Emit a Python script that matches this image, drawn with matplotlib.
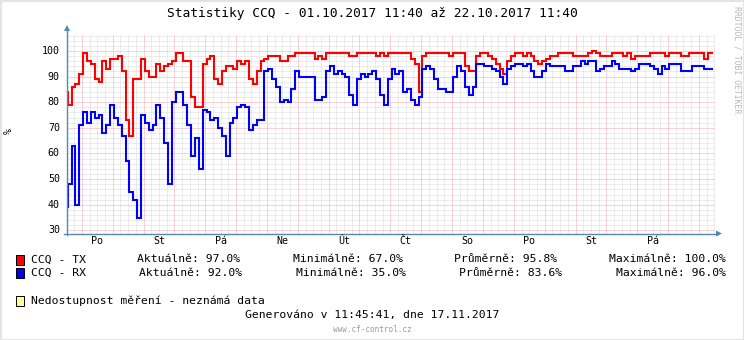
import numpy as np
import matplotlib
matplotlib.use("Agg")
import matplotlib.pyplot as plt
from matplotlib.patches import Rectangle, Polygon
from matplotlib.lines import Line2D

# ---------------- data ----------------
title = "Statistiky CCQ - 01.10.2017 11:40 až 22.10.2017 11:40"

# CCQ values, 3-hour steps (first value is a partial step before the window)
tx_values = [84,
             79, 86, 87, 91, 99, 96, 95, 89, 88, 96, 93, 97, 97, 98, 92, 73, 67, 89, 89, 97,
             92, 90, 90, 95, 92, 94, 95, 96, 99, 99, 96, 96, 82, 78, 78, 95, 97, 98, 89, 87,
             92, 94, 94, 93, 96, 95, 96,
             89, 87, 92, 96, 97, 98, 98, 98, 96, 96, 98, 98, 99, 99, 99, 99, 99, 97, 98, 97,
             99, 99, 99, 99, 99, 99,
             98, 98, 99, 99, 99, 99, 99, 98, 99, 98, 99, 99, 99, 99, 99, 99, 97, 95, 84, 98,
             99, 99, 99, 99,
             99, 99, 98, 99, 99, 99, 94, 92, 92, 98, 99, 99, 98, 97, 95, 93, 91, 96, 98, 99,
             99, 98, 99, 98,
             96, 95, 96, 97, 98, 98, 99, 99, 99, 99, 98, 98, 98, 98, 99, 100, 99, 98, 98, 98,
             99, 99, 99, 98,
             99, 97, 98, 98, 98, 98, 99, 99, 99, 99, 98, 99, 99, 99, 98, 98, 99, 99, 99, 99,
             97, 99]

rx_values = [39,
             48, 63, 40, 71, 76, 72, 76, 74, 75, 68, 71, 79, 74, 71, 67, 57, 45, 42, 35, 75,
             72, 69, 71, 79, 74, 64, 48, 80, 84, 84, 79, 71, 59, 66, 54, 77, 76, 73, 74, 70,
             67, 59, 72, 74, 78, 79, 78,
             69, 71, 73, 73, 92, 93, 89, 86, 80, 81, 80, 85, 92, 90, 90, 90, 90, 81, 81, 82,
             92, 94, 91, 92, 91, 90,
             83, 79, 89, 91, 90, 91, 92, 89, 83, 79, 89, 93, 91, 92, 84, 85, 81, 79, 82, 93,
             94, 93, 89, 85,
             85, 84, 84, 90, 94, 92, 86, 83, 86, 95, 95, 94, 94, 93, 92, 90, 87, 93, 94, 95,
             95, 94, 95, 92,
             90, 90, 92, 95, 94, 94, 94, 94, 92, 92, 94, 94, 96, 95, 96, 96, 92, 93, 94, 94,
             96, 95, 93, 93,
             93, 92, 93, 95, 95, 95, 94, 93, 91, 94, 93, 95, 95, 95, 92, 92, 92, 94, 94, 94,
             93, 93]

day_labels = ["Po", "St", "Pá", "Ne", "Út", "Čt", "So", "Po", "St", "Pá"]
y_ticks = [30, 40, 50, 60, 70, 80, 90, 100]

series_names = ["CCQ - TX", "CCQ - RX"]
series_colors = ["#FF0000", "#0000FF"]
cur_vals = ["97.0%", "92.0%"]
min_vals = ["67.0%", "35.0%"]
avg_vals = ["95.8%", "83.6%"]
max_vals = ["100.0%", "96.0%"]

unknown_label = "Nedostupnost měření - neznámá data"
generated = "Generováno v 11:45:41, dne 17.11.2017"
footer = "www.cf-control.cz"
watermark = "RRDTOOL / TOBI OETIKER"

# ---------------- figure ----------------
W, H = 744, 340
fig = plt.figure(figsize=(W / 100, H / 100), dpi=100)
fig.patch.set_facecolor("white")
MONO = "DejaVu Sans Mono"


def fx(x):
    return x / W


def fy(y):
    return 1 - y / H


left, right, top, bottom = 67, 715, 34.5, 233.5
ax = fig.add_axes([fx(left), fy(bottom), (right - left) / W, (bottom - top) / H])
ax.set_facecolor("white")
total_hours = 504.0
ax.set_xlim(0, total_hours)
ax.set_ylim(28.8, 106.4)
for s in ax.spines.values():
    s.set_visible(False)
ax.set_xticks([])
ax.set_yticks([])

# grid
minor_c = "#DADADA"
major_c = "#F4A8A8"
dash = (0, (1, 1))
for v in np.arange(30, 107, 2):
    if v % 10 == 0:
        continue
    ax.axhline(v, color=minor_c, lw=0.72, ls=dash, zorder=1)
midnight0 = 11.5
for h in np.arange(midnight0 - 6, total_hours + 0.1, 6):
    if h < 0.5:
        continue
    if abs(((h - midnight0) / 24) - round((h - midnight0) / 24)) < 1e-6:
        continue
    ax.axvline(h, color=minor_c, lw=0.72, ls=dash, zorder=1)
for v in y_ticks:
    ax.axhline(v, color=major_c, lw=0.72, ls=dash, zorder=1.5)
for h in np.arange(midnight0, total_hours, 24):
    ax.axvline(h, color=major_c, lw=0.72, ls=dash, zorder=1.5)

# data (steps)
def step_xy(vals):
    n = len(vals)
    t = np.concatenate([[0.0], 0.5 + 3 * np.arange(n - 1), [0.5 + 3 * (n - 1)]])
    y = np.concatenate([vals, [vals[-1]]])
    return t, y

for vals, col in zip([tx_values, rx_values], series_colors):
    t, y = step_xy(np.array(vals, dtype=float))
    ax.plot(t, y, drawstyle="steps-post", color=col, lw=1.5, zorder=3,
            solid_joinstyle="miter", clip_on=True)

# axes lines with arrows
axis_c = "#4F8AB0"
fig.add_artist(Line2D([fx(67), fx(67)], [fy(235), fy(29)], color=axis_c, lw=1.0))
fig.add_artist(Line2D([fx(64), fx(718)], [fy(233.5), fy(233.5)], color=axis_c, lw=1.0))
fig.add_artist(Polygon([[fx(64), fy(31)], [fx(70), fy(31)], [fx(67), fy(25)]],
                       closed=True, color=axis_c, lw=0))
fig.add_artist(Polygon([[fx(716), fy(230.5)], [fx(716), fy(236.5)], [fx(722), fy(233.5)]],
                       closed=True, color=axis_c, lw=0))

# y tick labels
for v in y_ticks:
    ax.text(-0.011, (v - 28.8) / (106.4 - 28.8), str(v), transform=ax.transAxes,
            ha="right", va="center", fontsize=7.2, family=MONO, color="#000000")
# day labels at noon
for i, lab in enumerate(day_labels):
    h = midnight0 + 24 + 12 + 48 * i - 24
    ax.text(h + 24 - 24, 0, "", transform=ax.transData)
    xpx = left + (midnight0 + 12 + 24 + 48 * i - 24 + 0) / total_hours * (right - left)
    fig.text(fx(left + (midnight0 + 12 + 48 * i) / total_hours * (right - left)), fy(241),
             lab, ha="center", va="center", fontsize=7.2, family=MONO)

# y label
fig.text(fx(9), fy(131), "%", rotation=90, ha="center", va="center",
         fontsize=7.2, family=MONO)

# title
fig.text(fx(372), fy(14), title, ha="center", va="center", fontsize=9.3, family=MONO)

# watermark
fig.text(fx(737.5), fy(6), watermark, rotation=270, ha="center", va="top",
         fontsize=5.9, family=MONO, color="#B8B8B8")

# legend
rows_y = [259.5, 272.5]
col_x = [[137, 293, 454, 609], [139, 296, 459, 616]]
for i in range(2):
    yv = rows_y[i]
    fig.add_artist(Rectangle((fx(16), fy(yv + 5)), 8 / W, 10 / H,
                             facecolor=series_colors[i], edgecolor="black", lw=0.7))
    fig.text(fx(31), fy(yv), series_names[i], ha="left", va="center",
             fontsize=8.2, family=MONO)
    texts = ["Aktuálně: " + cur_vals[i], "Minimálně: " + min_vals[i],
             "Průměrně: " + avg_vals[i], "Maximálně: " + max_vals[i]]
    for xx, tt in zip(col_x[i], texts):
        fig.text(fx(xx), fy(yv), tt, ha="left", va="center", fontsize=8.2, family=MONO)

fig.add_artist(Rectangle((fx(16), fy(306)), 8 / W, 10 / H,
                         facecolor="#FFFFA0", edgecolor="black", lw=0.7))
fig.text(fx(31), fy(301), unknown_label, ha="left", va="center",
         fontsize=8.2, family=MONO)
fig.text(fx(372), fy(315), generated, ha="center", va="center",
         fontsize=8.2, family=MONO)
fig.text(fx(372), fy(329), footer, ha="center", va="center",
         fontsize=5.5, family=MONO, color="#999999")

# border
fig.add_artist(Rectangle((fx(0.5), fy(339.5)), 743 / W, 339 / H, fill=False,
                         edgecolor="#E4E4E4", lw=1.5))

fig.savefig("out.png", dpi=100, facecolor="white")
